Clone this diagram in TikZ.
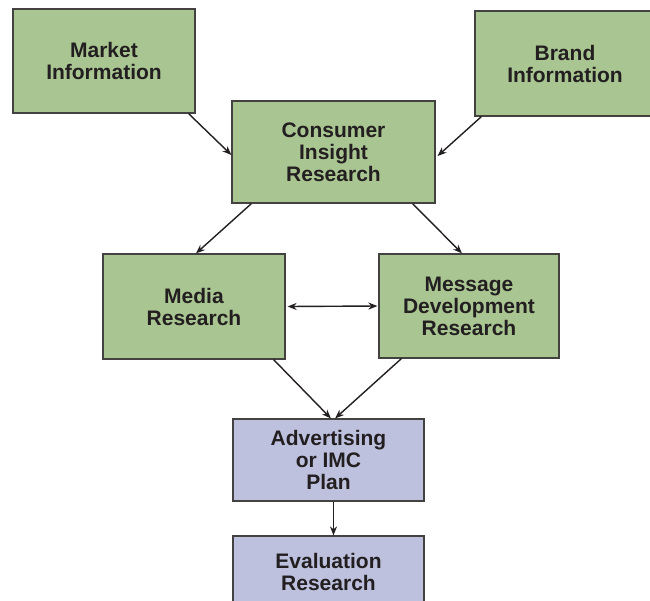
\documentclass[tikz,border=0pt]{standalone}
\usepackage{fontspec}
\setmainfont{Liberation Sans}
\usetikzlibrary{arrows.meta}
\definecolor{boxgreen}{HTML}{A9C592}
\definecolor{boxblue}{HTML}{BDC1DE}
\definecolor{inkgray}{HTML}{231F20}

\begin{document}
\begin{tikzpicture}[x=0.5pt, y=-0.5pt,
	every node/.style={font=\bfseries\fontsize{10.5}{11}\selectfont, text=inkgray, align=center},
	box/.style={draw=inkgray!85, line width=0.6pt, inner sep=0pt},
	greenbox/.style={box, fill=boxgreen},
	bluebox/.style={box, fill=boxblue},
	link/.style={draw=inkgray, line width=0.7pt, -{Stealth[length=4.5pt, width=3.5pt]}}]
	\useasboundingbox (0,0) rectangle (650,601);
	\clip (0,0) rectangle (650,601);
	\node[greenbox, minimum width=91pt, minimum height=52pt] (market) at (104,61) {Market\\Information};
	\node[greenbox, minimum width=90pt, minimum height=52.5pt] (brand) at (565,63.5) {Brand\\Information};
	\node[greenbox, minimum width=101.5pt, minimum height=51pt] (consumer) at (333.5,152) {Consumer\\Insight\\Research};
	\node[greenbox, minimum width=91pt, minimum height=52.5pt] (media) at (194,306.5) {Media\\Research};
	\node[greenbox, minimum width=90pt, minimum height=52pt] (message) at (469,306) {Message\\Development\\Research};
	\node[bluebox, minimum width=95.5pt, minimum height=41pt] (plan) at (328.5,460) {Advertising\\or IMC\\Plan};
	\node[bluebox, minimum width=95.5pt, minimum height=36pt] (evaluation) at (328.5,572) {Evaluation\\Research};
	% arrows between the boxes
	\draw[link] ([xshift=-3.5pt]market.south east) -- ([yshift=-1.5pt]consumer.west);
	\draw[link] ([xshift=3.5pt]brand.south west) -- ([xshift=1pt, yshift=-2pt]consumer.east);
	\draw[link] ([xshift=10pt]consumer.south west) -- ([xshift=1pt]media.north);
	\draw[link] ([xshift=-11.5pt]consumer.south east) -- ([xshift=-3.5pt]message.north);
	\draw[link, {Stealth[length=4.5pt, width=3.5pt]}-{Stealth[length=4.5pt, width=3.5pt]}] ([xshift=1pt]media.east) -- ([xshift=-0.5pt]message.west);
	\draw[link] ([xshift=-6pt]media.south east) -- ([xshift=1.2pt]plan.north);
	\draw[link] ([xshift=11.5pt]message.south west) -- ([xshift=3.3pt]plan.north);
	\draw[link] ([xshift=2.5pt]plan.south) -- ([xshift=2.5pt]evaluation.north);
\end{tikzpicture}
\end{document}
